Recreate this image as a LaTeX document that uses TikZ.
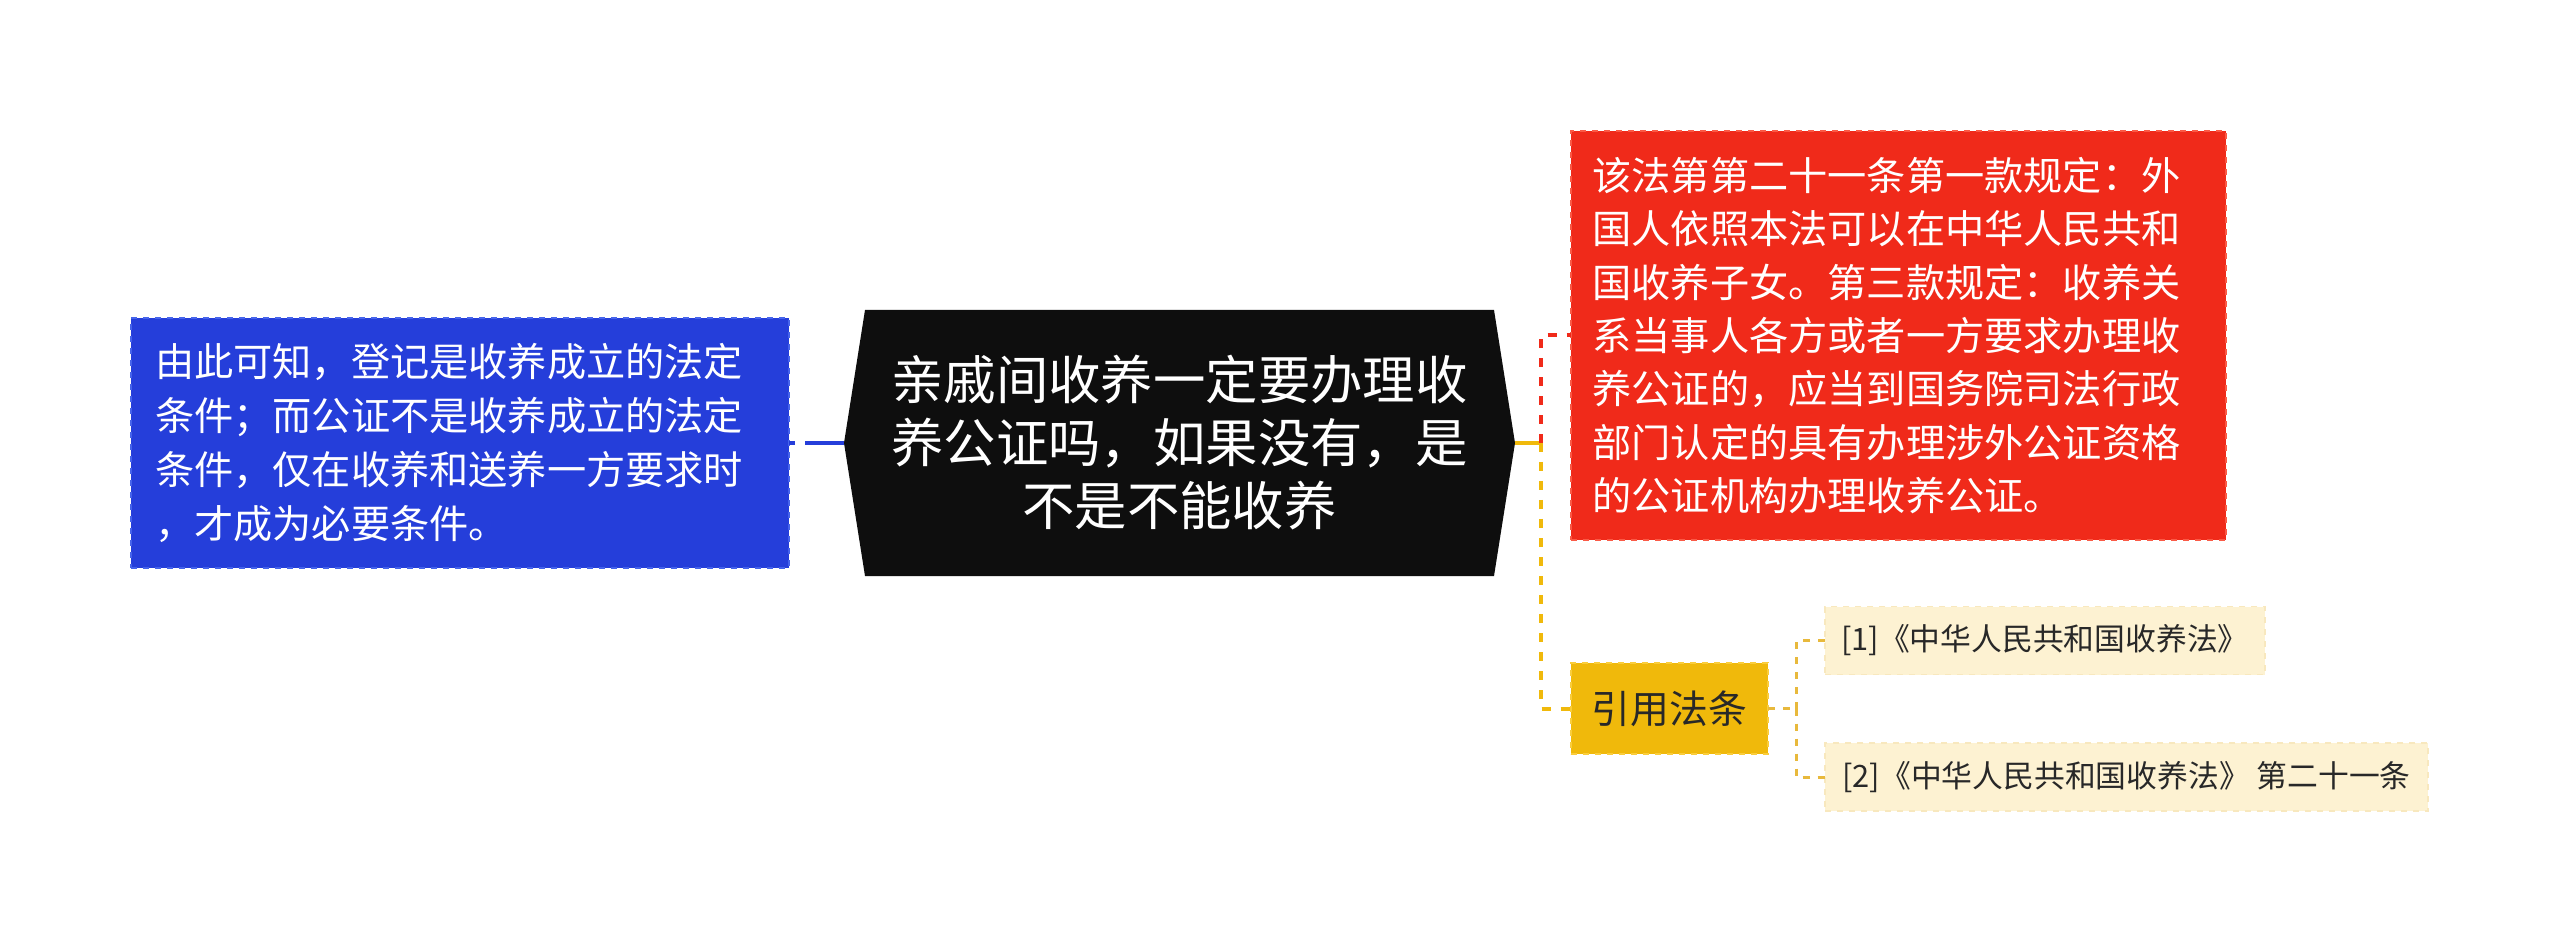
\documentclass[tikz,border=0pt]{standalone}
\usepackage{fontspec}
\setmainfont{Noto Sans CJK SC}
\usetikzlibrary{calc,backgrounds}
\definecolor{cblue}{RGB}{37,62,218}
\definecolor{cblueb}{RGB}{70,100,235}
\definecolor{cred}{RGB}{240,42,26}
\definecolor{credb}{RGB}{250,90,70}
\definecolor{cblack}{RGB}{14,14,14}
\definecolor{cyel}{RGB}{240,185,11}
\definecolor{cyelb}{RGB}{250,205,60}
\definecolor{cref}{RGB}{253,242,210}
\definecolor{crefb}{RGB}{248,232,190}
\definecolor{cline}{RGB}{232,185,60}
\definecolor{ctext}{RGB}{40,40,40}
\tikzset{
  every node/.style={inner sep=0pt, outer sep=0pt},
  bluebox/.style={fill=cblue, draw=cblueb, dashed, line width=0.8pt, text=white,
    minimum width=329pt, minimum height=125pt, text width=305pt, align=left,
    font=\fontsize{19.6}{27}\selectfont},
  redbox/.style={fill=cred, draw=credb, dashed, line width=0.8pt, text=white,
    minimum width=327.5pt, minimum height=204.5pt, text width=306pt, align=left,
    font=\fontsize{19.6}{26.7}\selectfont},
  hexbox/.style={text=white, minimum width=314.5pt, minimum height=133pt,
    text width=300pt, align=center, font=\fontsize{26.2}{31.5}\selectfont},
  yelbox/.style={fill=cyel, draw=cyelb, dashed, line width=0.8pt, text=ctext,
    minimum width=98.5pt, minimum height=45.5pt, align=center,
    font=\fontsize{19.4}{24}\selectfont},
  refbox/.style={fill=cref, draw=crefb, dashed, line width=0.8pt, text=ctext,
    minimum height=34pt, inner xsep=8pt, anchor=west,
    font=\fontsize{15.4}{20}\selectfont},
  conn/.style={line width=2pt},
  dconn/.style={line width=2pt, dash pattern=on 4.5pt off 5pt},
  rconn/.style={line width=1.5pt, cline, dash pattern=on 3.5pt off 4pt},
}
\begin{document}
\begin{tikzpicture}[x=1pt,y=1pt]
\begin{pgfonlayer}{background}
\fill[white] (0,0) rectangle (1280,-473);
\end{pgfonlayer}
\useasboundingbox (0,0) rectangle (1280,-473);

\node[bluebox] (blue) at (230,-221.5) {由此可知，登记是收养成立的法定\\条件；而公证不是收养成立的法定\\条件，仅在收养和送养一方要求时\\，才成为必要条件。};
\node[hexbox] (hex) at (589.75,-221.5) {亲戚间收养一定要办理收\\养公证吗，如果没有，是\\不是不能收养};
\begin{pgfonlayer}{background}
\fill[cblack] (hex.north west) -- (hex.north east) -- ($(hex.east)+(10.5,0)$) -- (hex.south east) -- (hex.south west) -- ($(hex.west)+(-10.5,0)$) -- cycle;
\end{pgfonlayer}
\coordinate (hexL) at ($(hex.west)+(-10.5,0)$);
\coordinate (hexR) at ($(hex.east)+(10.5,0)$);

\node[redbox] (red) at (949.25,-167.75) {该法第第二十一条第一款规定：外\\国人依照本法可以在中华人民共和\\国收养子女。第三款规定：收养关\\系当事人各方或者一方要求办理收\\养公证的，应当到国务院司法行政\\部门认定的具有办理涉外公证资格\\的公证机构办理收养公证。};
\node[yelbox] (yel) at (834.75,-354.25) {引用法条};
\node[refbox, minimum width=220pt] (ref1) at (912.5,-320.25) {[1]《中华人民共和国收养法》};
\node[refbox, minimum width=301.5pt] (ref2) at (912.5,-388.5) {[2]《中华人民共和国收养法》 第二十一条};

% connectors
\draw[conn, cblue, dash pattern=on 3pt off 5pt on 40pt] (blue.east) -- (hexL);
\coordinate (trunk) at (770.5,-221.5);
\draw[conn, cyel] (hexR) -- (trunk);
\draw[dconn, cred] (trunk) |- (red.west);
\draw[dconn, cyel] (trunk) |- (yel.west);
\coordinate (rtrunk) at (898,-354.25);
\draw[rconn] (yel.east) -- (rtrunk);
\draw[rconn] (rtrunk) |- (ref1.west);
\draw[rconn] (rtrunk) |- (ref2.west);
\end{tikzpicture}
\end{document}
